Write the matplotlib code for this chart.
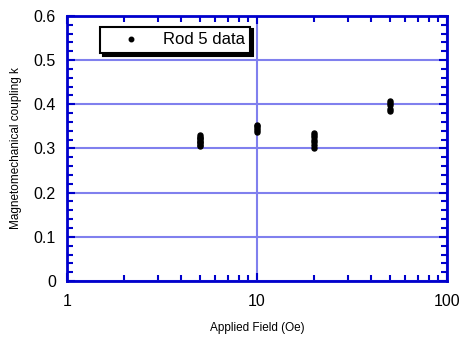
import matplotlib
matplotlib.use("Agg")
import matplotlib.pyplot as plt
from matplotlib.ticker import MultipleLocator, LogLocator, NullFormatter, FuncFormatter

plt.rcParams["font.family"] = ["Liberation Sans", "DejaVu Sans"]

# Rod 5 coupling measurements, grouped by applied bias field
field_oe = [5, 5, 5, 5, 5, 5, 5, 5, 5,
            10, 10, 10, 10, 10,
            20, 20, 20, 20, 20, 20, 20,
            50, 50, 50, 50, 50]
coupling_k = [0.305, 0.308, 0.312, 0.315, 0.318, 0.321, 0.324, 0.327, 0.330,
              0.338, 0.342, 0.346, 0.350, 0.354,
              0.302, 0.308, 0.315, 0.320, 0.325, 0.330, 0.336,
              0.386, 0.390, 0.398, 0.402, 0.407]

axis_blue = "#0000cc"
grid_blue = "#8080ee"

fig = plt.figure(figsize=(4.6, 3.47), dpi=100)
ax = fig.add_axes([0.1457, 0.1902, 0.826, 0.7637])

ax.plot(field_oe, coupling_k, linestyle="none", marker="o", markersize=3.6,
        color="black", label="Rod 5 data", zorder=3)

ax.set_xscale("log")
ax.set_xlim(1, 100)
ax.set_ylim(0, 0.6)

ax.yaxis.set_major_locator(MultipleLocator(0.1))
ax.yaxis.set_minor_locator(MultipleLocator(0.02))
ax.xaxis.set_major_locator(LogLocator(base=10))
ax.xaxis.set_minor_locator(LogLocator(base=10, subs=range(2, 10)))
ax.xaxis.set_minor_formatter(NullFormatter())
ax.xaxis.set_major_formatter(FuncFormatter(lambda v, _: f"{v:g}"))
ax.yaxis.set_major_formatter(FuncFormatter(lambda v, _: "0" if abs(v) < 1e-9 else f"{v:.1f}"))

ax.grid(True, which="major", color=grid_blue, linewidth=1.5)
ax.set_axisbelow(True)

for s in ax.spines.values():
    s.set_color(axis_blue)
    s.set_linewidth(2)

ax.tick_params(which="both", direction="in", top=True, right=True,
               color=axis_blue, labelsize=11.5, labelcolor="black")
ax.tick_params(which="major", length=6, width=1.5)
ax.tick_params(axis="x", which="major", pad=9)
ax.tick_params(axis="y", which="major", pad=8)
ax.tick_params(which="minor", length=4, width=1.5)

ax.set_xlabel("Applied Field (Oe)", fontsize=8.5, labelpad=10)
ax.set_ylabel("Magnetomechanical coupling k", fontsize=8.5, labelpad=8)

leg = ax.legend(loc="upper left", bbox_to_anchor=(0.087, 0.96), fancybox=False,
                shadow={"color": "black", "alpha": 1}, framealpha=1,
                edgecolor="black", fontsize=12, handletextpad=0.4,
                borderpad=0.35, handlelength=3.0, borderaxespad=0,
                markerscale=0.9)
leg.get_frame().set_linewidth(1.5)

fig.savefig("out.png", dpi=100)
